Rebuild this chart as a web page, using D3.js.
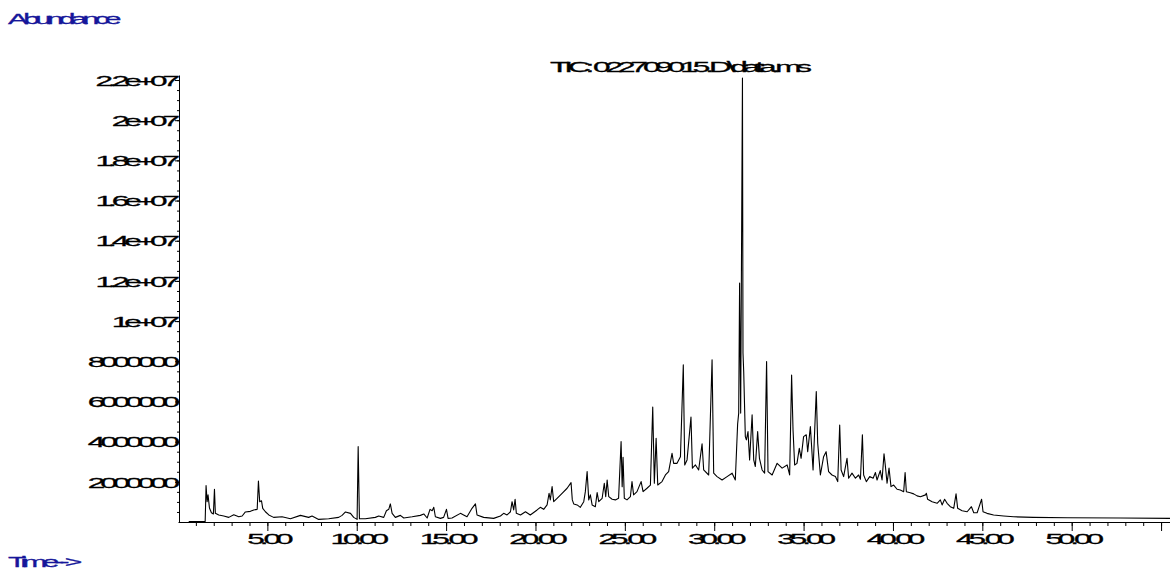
<!DOCTYPE html>
<html>
<head>
<meta charset="utf-8">
<script src="https://cdn.jsdelivr.net/npm/d3@7"></script>
<style>
  html, body { margin: 0; padding: 0; background: #fff; }
  svg { display: block; }
  text { font-family: "Liberation Sans", Arial, sans-serif; font-size: 15px; letter-spacing: -2.4px; stroke-width: 0.3px; }
</style>
</head>
<body>
<svg id="chart" width="1170" height="569"></svg>
<script>
// TIC chromatogram, values: [time (min), abundance]
var trace = [
  [0.60, 0.02e6], [1.52, 0.02e6], [1.57, 1.81e6], [1.63, 1.01e6], [1.68, 1.35e6], [1.76, 0.70e6],
  [1.87, 0.46e6], [1.98, 0.40e6], [2.04, 1.63e6], [2.09, 0.43e6], [2.28, 0.35e6], [2.56, 0.30e6],
  [2.84, 0.23e6], [3.12, 0.36e6], [3.40, 0.26e6], [3.59, 0.30e6], [3.77, 0.50e6], [4.05, 0.53e6],
  [4.24, 0.60e6], [4.43, 0.63e6], [4.50, 2.04e6], [4.57, 1.01e6], [4.67, 1.06e6], [4.74, 0.68e6],
  [4.89, 0.51e6], [5.08, 0.35e6], [5.35, 0.23e6], [5.82, 0.26e6], [6.29, 0.16e6], [6.85, 0.33e6],
  [7.31, 0.23e6], [7.50, 0.30e6], [7.87, 0.13e6], [8.43, 0.16e6], [8.99, 0.23e6], [9.18, 0.33e6],
  [9.37, 0.50e6], [9.65, 0.43e6], [9.83, 0.23e6], [10.02, 0.13e6], [10.08, 3.75e6], [10.15, 0.16e6],
  [10.48, 0.16e6], [11.04, 0.23e6], [11.23, 0.30e6], [11.51, 0.23e6], [11.66, 0.56e6], [11.79, 0.63e6],
  [11.88, 0.90e6], [11.98, 0.43e6], [12.16, 0.23e6], [12.44, 0.33e6], [12.63, 0.20e6], [13.10, 0.26e6],
  [13.56, 0.33e6], [13.75, 0.40e6], [13.94, 0.20e6], [14.10, 0.63e6], [14.22, 0.56e6], [14.31, 0.73e6],
  [14.40, 0.26e6], [14.68, 0.18e6], [14.86, 0.23e6], [15.02, 0.63e6], [15.11, 0.18e6], [15.33, 0.20e6],
  [15.80, 0.43e6], [15.98, 0.35e6], [16.17, 0.26e6], [16.45, 0.68e6], [16.64, 0.90e6], [16.73, 0.35e6],
  [17.10, 0.23e6], [17.66, 0.18e6], [18.04, 0.30e6], [18.22, 0.43e6], [18.41, 0.35e6], [18.60, 0.51e6],
  [18.69, 1.01e6], [18.78, 0.60e6], [18.86, 1.13e6], [18.93, 0.43e6], [19.16, 0.35e6], [19.44, 0.51e6],
  [19.71, 0.35e6], [20.09, 0.60e6], [20.27, 0.73e6], [20.46, 0.63e6], [20.65, 0.85e6], [20.76, 1.43e6],
  [20.83, 1.10e6], [20.93, 1.76e6], [21.02, 1.01e6], [21.21, 1.18e6], [21.49, 1.43e6], [21.77, 1.68e6],
  [21.99, 1.96e6], [22.06, 1.10e6], [22.14, 0.90e6], [22.33, 0.85e6], [22.51, 0.73e6], [22.70, 1.01e6],
  [22.79, 1.51e6], [22.89, 2.51e6], [22.98, 1.10e6], [23.07, 1.35e6], [23.17, 0.85e6], [23.35, 0.76e6],
  [23.45, 1.46e6], [23.54, 1.01e6], [23.73, 1.18e6], [23.85, 1.93e6], [23.93, 1.26e6], [24.01, 2.09e6],
  [24.10, 1.26e6], [24.29, 1.13e6], [24.47, 1.10e6], [24.65, 1.18e6], [24.79, 4.00e6], [24.85, 1.76e6],
  [24.90, 3.22e6], [24.97, 1.18e6], [25.12, 1.10e6], [25.31, 1.26e6], [25.40, 2.01e6], [25.49, 1.35e6],
  [25.68, 1.51e6], [25.91, 2.01e6], [26.02, 1.51e6], [26.24, 1.68e6], [26.43, 1.84e6], [26.56, 5.72e6],
  [26.65, 1.93e6], [26.75, 4.17e6], [26.84, 1.84e6], [27.08, 2.01e6], [27.27, 2.34e6], [27.45, 2.51e6],
  [27.64, 3.42e6], [27.73, 2.92e6], [27.92, 2.92e6], [28.11, 3.25e6], [28.27, 7.82e6], [28.35, 2.84e6],
  [28.48, 3.09e6], [28.70, 5.22e6], [28.78, 2.68e6], [28.95, 2.84e6], [29.13, 2.59e6], [29.32, 3.89e6],
  [29.41, 2.59e6], [29.69, 2.34e6], [29.88, 8.07e6], [29.97, 2.43e6], [30.16, 2.26e6], [30.44, 2.09e6],
  [30.72, 2.26e6], [31.00, 2.43e6], [31.18, 2.09e6], [31.31, 4.88e6], [31.37, 5.42e6], [31.42, 11.89e6],
  [31.48, 5.42e6], [31.58, 22.1e6], [31.61, 8.41e6], [31.65, 7.49e6], [31.74, 4.25e6], [31.80, 4.09e6],
  [31.89, 4.50e6], [31.98, 3.09e6], [32.12, 5.33e6], [32.21, 3.09e6], [32.30, 2.76e6], [32.43, 4.50e6],
  [32.53, 3.17e6], [32.68, 2.59e6], [32.82, 2.43e6], [32.93, 7.99e6], [33.01, 2.51e6], [33.24, 2.34e6],
  [33.52, 2.92e6], [33.80, 2.68e6], [34.08, 2.84e6], [34.22, 2.34e6], [34.33, 7.32e6], [34.41, 4.58e6],
  [34.50, 2.84e6], [34.63, 2.92e6], [34.76, 3.67e6], [34.86, 3.17e6], [35.00, 4.25e6], [35.15, 4.34e6],
  [35.23, 3.50e6], [35.38, 4.75e6], [35.53, 2.59e6], [35.71, 6.49e6], [35.79, 3.92e6], [35.94, 2.34e6],
  [36.12, 3.25e6], [36.26, 3.50e6], [36.40, 2.51e6], [36.59, 2.34e6], [36.78, 2.26e6], [36.91, 2.01e6],
  [37.02, 4.83e6], [37.10, 2.59e6], [37.24, 2.26e6], [37.43, 3.17e6], [37.52, 2.18e6], [37.71, 2.43e6],
  [37.90, 2.18e6], [38.08, 2.34e6], [38.18, 2.13e6], [38.29, 4.34e6], [38.36, 2.34e6], [38.51, 2.01e6],
  [38.70, 2.26e6], [38.89, 2.18e6], [39.02, 2.46e6], [39.11, 2.09e6], [39.29, 2.56e6], [39.39, 2.09e6],
  [39.50, 3.39e6], [39.57, 2.84e6], [39.67, 1.93e6], [39.78, 2.68e6], [39.89, 1.76e6], [40.04, 1.84e6],
  [40.23, 1.63e6], [40.41, 1.59e6], [40.60, 1.51e6], [40.68, 2.46e6], [40.75, 1.51e6], [40.97, 1.46e6],
  [41.16, 1.40e6], [41.35, 1.30e6], [41.54, 1.26e6], [41.82, 1.35e6], [41.87, 1.43e6], [41.94, 1.13e6],
  [42.19, 1.01e6], [42.47, 0.93e6], [42.65, 1.10e6], [42.75, 0.85e6], [42.89, 1.13e6], [43.03, 0.93e6],
  [43.21, 0.76e6], [43.40, 0.68e6], [43.53, 1.40e6], [43.62, 0.68e6], [43.87, 0.56e6], [44.15, 0.51e6],
  [44.39, 0.76e6], [44.52, 0.46e6], [44.71, 0.46e6], [44.96, 1.13e6], [45.04, 0.51e6], [45.26, 0.43e6],
  [45.63, 0.35e6], [46.19, 0.30e6], [46.75, 0.26e6], [47.85, 0.23e6], [49.76, 0.21e6], [52.72, 0.20e6],
  [55.52, 0.18e6]
];

var xMajorTicks = [5, 10, 15, 20, 25, 30, 35, 40, 45, 50, 55];
var xMinorTicks = d3.range(1, 56);
var yMajorTicks = [2e6, 4e6, 6e6, 8e6, 10e6, 12e6, 14e6, 16e6, 18e6, 20e6, 22e6];
var yTickLabels = ["2000000", "4000000", "6000000", "8000000", "1e+07", "1.2e+07",
                   "1.4e+07", "1.6e+07", "1.8e+07", "2e+07", "2.2e+07"];
var yMinorTicks = d3.range(5e5, 22.25e6, 5e5);

var title = "TIC: 022709015.D\\data.ms";
var yTitle = "Abundance";
var xTitle = "Time-->";

var SX = 2.1;   // horizontal stretch of the instrument font
var blue = "#16169a";

var dimensions = {
  width: 1170,
  height: 569,
  margin: { top: 75, bottom: 47, right: 0, left: 178 }
};

var svg = d3.select("#chart");

var xScale = d3.scaleLinear()
  .domain([0, 55.5])
  .range([dimensions.margin.left, dimensions.width - dimensions.margin.right]);

var yScale = d3.scaleLinear()
  .domain([0, 22.25e6])
  .range([dimensions.height - dimensions.margin.bottom, dimensions.margin.top]);

function stretchText(sel) {
  sel.each(function () {
    var t = d3.select(this);
    var x0 = +t.attr("x") || 0;
    t.attr("x", x0 / SX).attr("transform", "scale(" + SX + ",1)");
  });
}

// x axis: minor then major ticks
var xBase = yScale(0);
svg.append("g")
  .attr("transform", "translate(0," + xBase + ")")
  .call(d3.axisBottom(xScale).tickValues(xMinorTicks).tickSize(4).tickFormat("").tickSizeOuter(0))
  .call(g => g.select(".domain").remove());

var xAxis = svg.append("g")
  .attr("transform", "translate(0," + xBase + ")")
  .call(d3.axisBottom(xScale).tickValues(xMajorTicks).tickSize(9).tickSizeOuter(0)
    .tickFormat(d => d <= 50 ? d3.format(".2f")(d) : ""));
xAxis.selectAll("text").attr("y", 11).attr("dy", "0.71em")
  .attr("fill", "#000").attr("stroke", "#000").style("font-size", "15px").call(stretchText);

// y axis
var yAxisX = 179;
svg.append("g")
  .attr("transform", "translate(" + yAxisX + ",0)")
  .call(d3.axisLeft(yScale).tickValues(yMinorTicks).tickSize(2).tickFormat("").tickSizeOuter(0))
  .call(g => g.select(".domain").remove());

var yAxis = svg.append("g")
  .attr("transform", "translate(" + yAxisX + ",0)")
  .call(d3.axisLeft(yScale).tickValues(yMajorTicks).tickSize(4).tickSizeOuter(0)
    .tickFormat((d, i) => yTickLabels[i]));
yAxis.selectAll("text").attr("x", -4).attr("dy", "0.35em")
  .attr("fill", "#000").attr("stroke", "#000").style("font-size", "15px").call(stretchText);

svg.selectAll(".domain, .tick line").attr("stroke", "#000").attr("stroke-width", 1);
svg.selectAll(".tick text").attr("font-family", null);

// trace
var line = d3.line()
  .x(d => xScale(d[0]))
  .y(d => yScale(d[1]));

svg.append("path")
  .datum(trace)
  .attr("fill", "none")
  .attr("stroke", "#000")
  .attr("stroke-width", 1.1)
  .attr("stroke-linejoin", "round")
  .attr("d", line);

// texts
svg.append("text")
  .text(title)
  .attr("transform", "translate(550,72) scale(" + SX + ",1)")
  .attr("fill", "#000").attr("stroke", "#000");

svg.append("text")
  .text(yTitle)
  .attr("transform", "translate(8,24) scale(2.0,1)")
  .attr("fill", blue).attr("stroke", blue);

svg.append("text")
  .text(xTitle)
  .attr("transform", "translate(8,567) scale(2.0,1)")
  .attr("fill", blue).attr("stroke", blue);
</script>
</body>
</html>
